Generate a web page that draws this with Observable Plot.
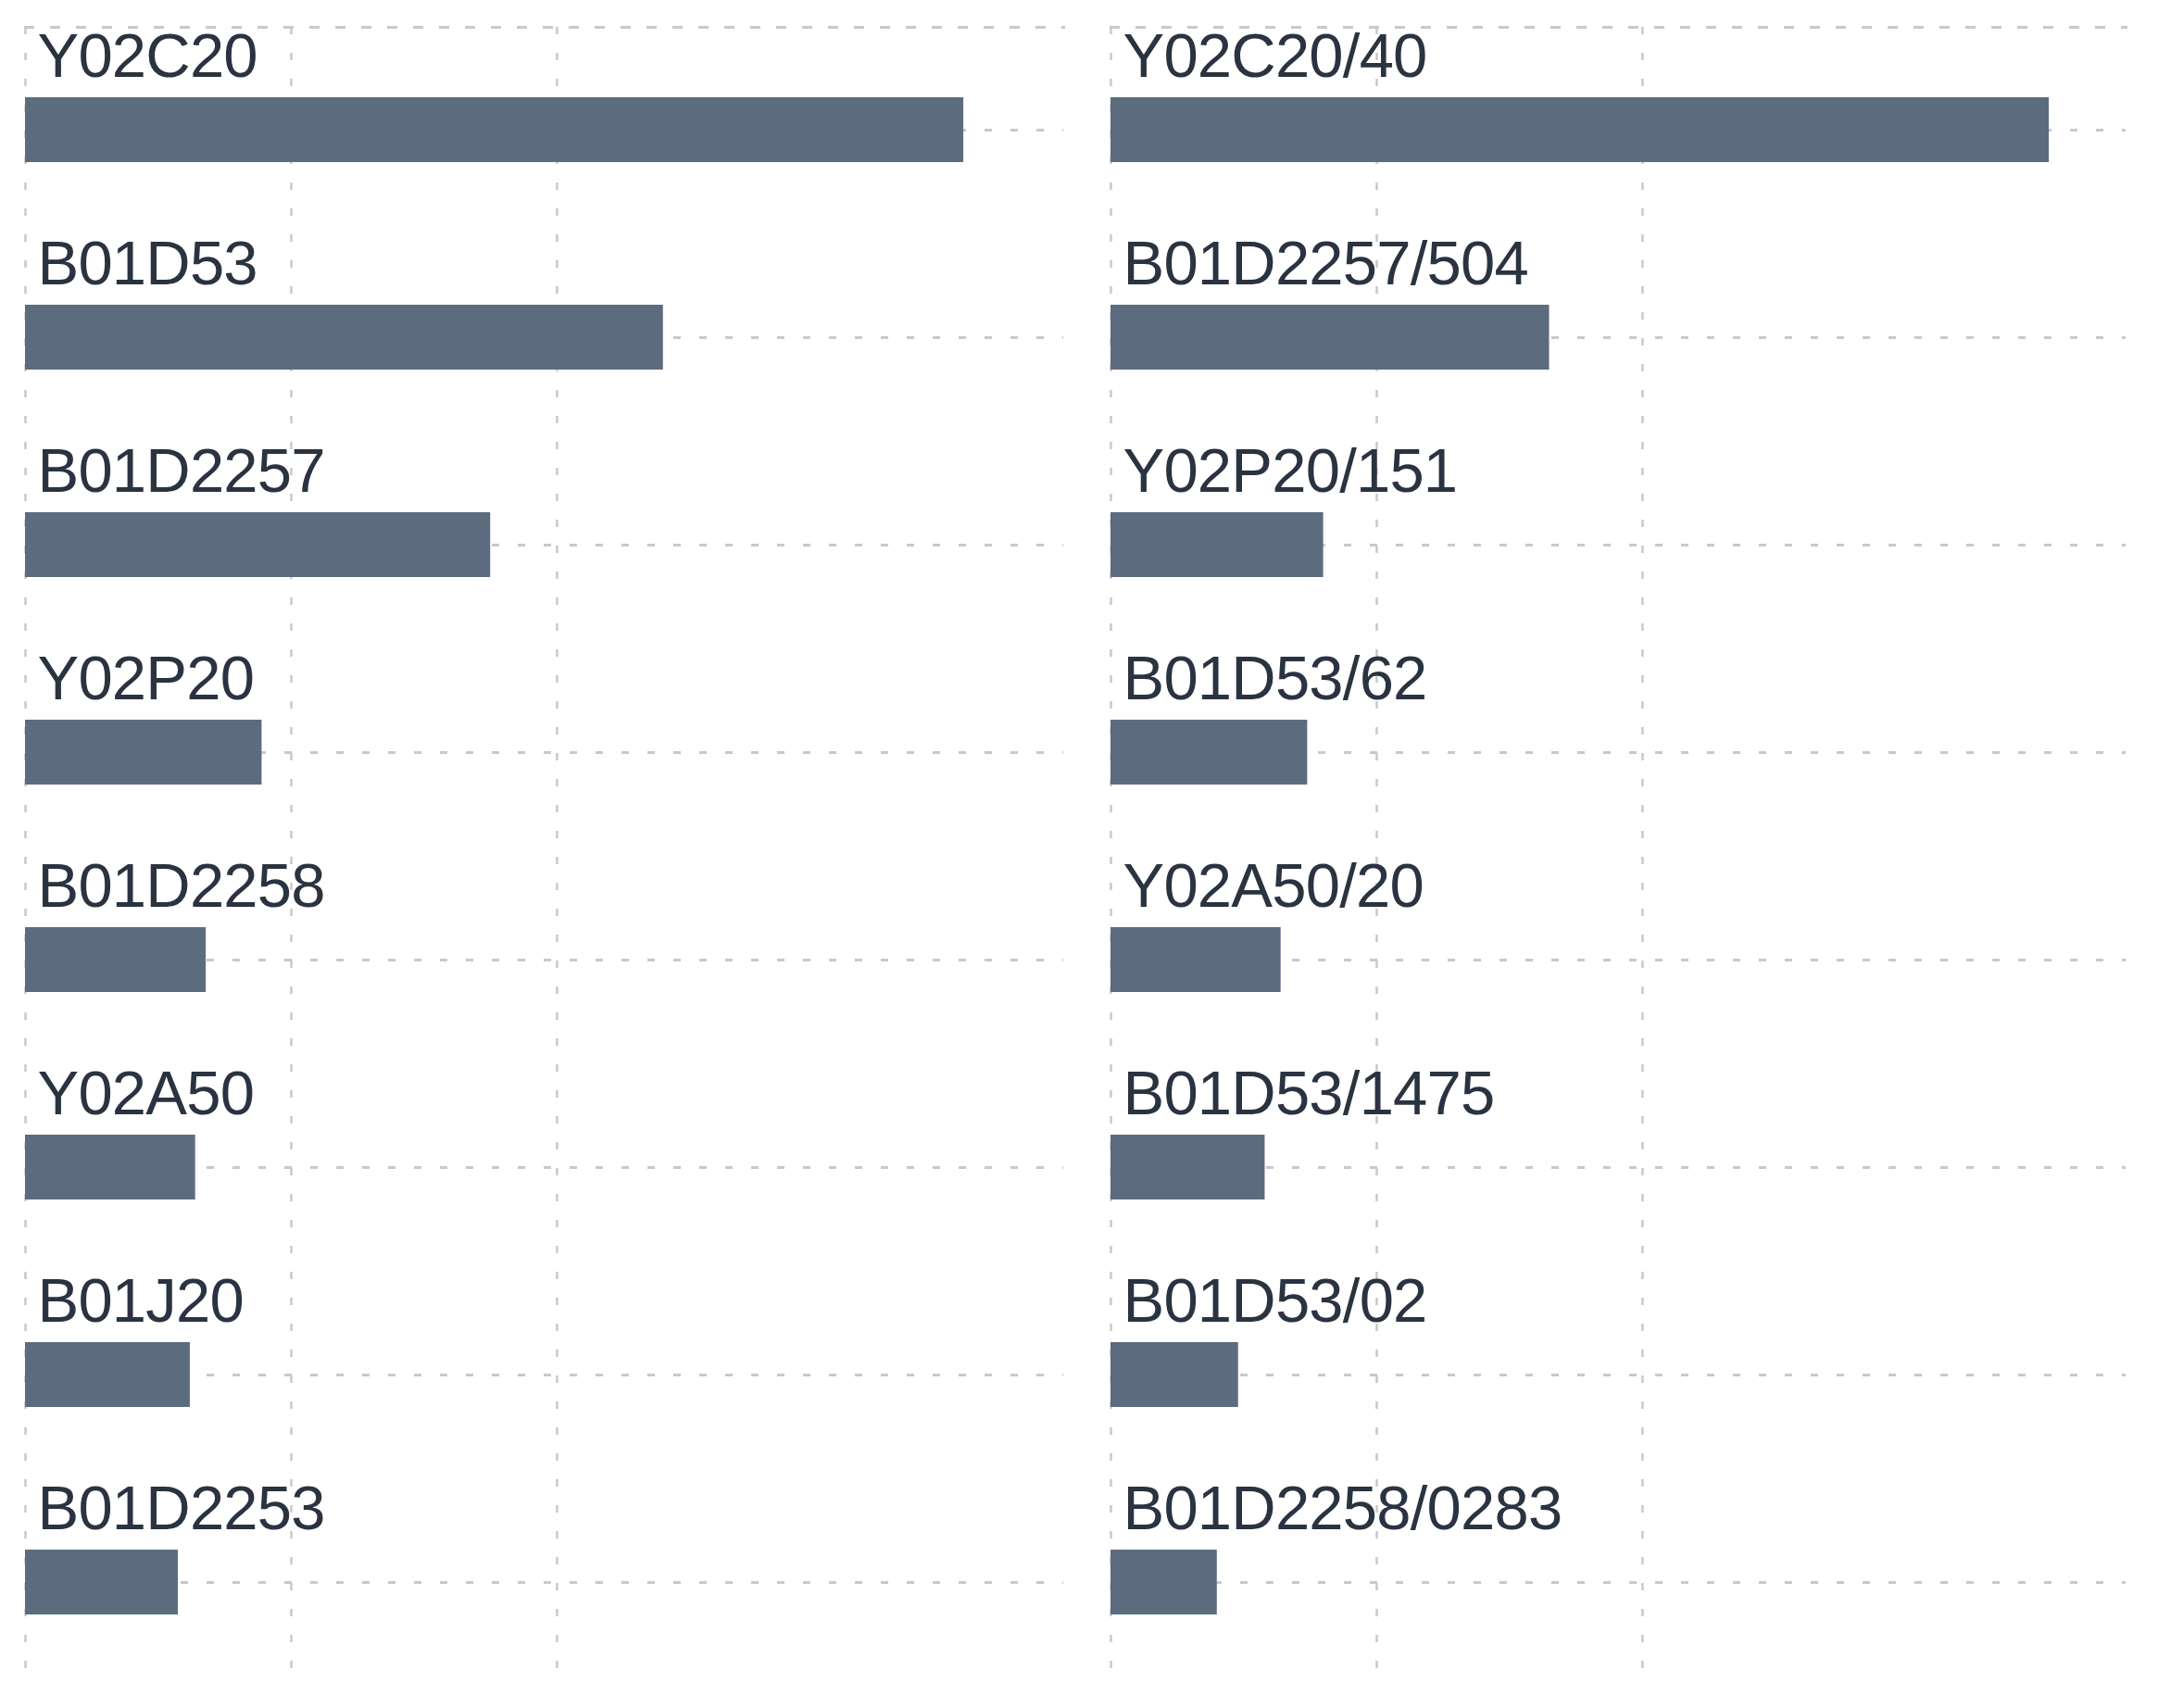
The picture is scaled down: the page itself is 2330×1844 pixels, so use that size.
<!DOCTYPE html>
<html>
<head>
<meta charset="utf-8">
<script src="https://cdn.jsdelivr.net/npm/d3@7"></script>
<script src="https://cdn.jsdelivr.net/npm/@observablehq/plot@0.6"></script>
<style>
  html, body { margin: 0; padding: 0; background: #ffffff; }
  #chart { display: flex; flex-direction: row; width: 2330px; height: 1844px; }
  #chart svg { display: block; }
</style>
</head>
<body>
<div id="chart"></div>
<script>
// ---- data ----
const leftCategories = ["Y02C20", "B01D53", "B01D2257", "Y02P20", "B01D2258", "Y02A50", "B01J20", "B01D2253"];
const leftValues = [3530, 2400, 1750, 890, 680, 640, 620, 575];

const rightCategories = ["Y02C20/40", "B01D2257/504", "Y02P20/151", "B01D53/62", "Y02A50/20", "B01D53/1475", "B01D53/02", "B01D2258/0283"];
const rightValues = [3530, 1650, 800, 740, 640, 580, 480, 400];

const gridTicks = [0, 1000, 2000];
const leftDomain = [0, 3906];
const rightDomain = [0, 3819];

// ---- style ----
const barColor = "#5d6b7f";
const textColor = "#2a3340";
const gridColor = "#c9c9c9";
const fontFamily = "'Liberation Sans', Arial, Helvetica, sans-serif";

function panel(categories, values, domain, width, marginLeft, marginRight) {
  const data = categories.map((c, i) => ({category: c, value: values[i]}));
  return Plot.plot({
    width,
    height: 1844,
    marginTop: 29,
    marginBottom: 39,
    marginLeft,
    marginRight,
    style: {background: "transparent", fontFamily, color: textColor, letterSpacing: "-0.8px"},
    x: {domain, axis: null},
    y: {type: "band", domain: categories, paddingInner: 0.688, paddingOuter: 0.3, align: 0.55, axis: null},
    marks: [
      Plot.frame({anchor: "top", stroke: gridColor, strokeWidth: 3, strokeDasharray: "8,20"}),
      Plot.ruleX(gridTicks, {stroke: gridColor, strokeWidth: 2.5, strokeDasharray: "8,20"}),
      Plot.ruleY(categories, {stroke: gridColor, strokeWidth: 3, strokeDasharray: "8,20"}),
      Plot.barX(data, {x: "value", y: "category", fill: barColor}),
      Plot.text(data, {
        y: "category",
        text: "category",
        frameAnchor: "left",
        textAnchor: "start",
        lineAnchor: "middle",
        dx: 13,
        dy: -79,
        fontSize: 67,
        fill: textColor
      })
    ]
  });
}

const chart = document.getElementById("chart");
chart.appendChild(panel(leftCategories, leftValues, leftDomain, 1175, 27, 27));
chart.appendChild(panel(rightCategories, rightValues, rightDomain, 1155, 24, 35));
</script>
</body>
</html>
